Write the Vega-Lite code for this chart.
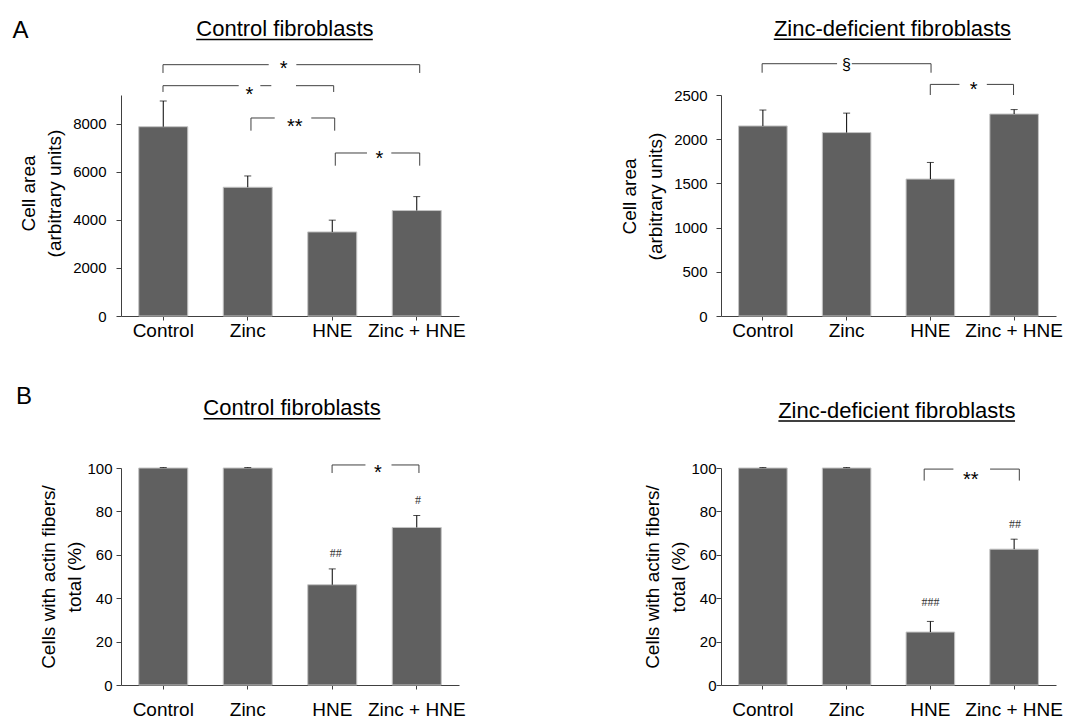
{
  "$schema": "https://vega.github.io/schema/vega-lite/v6.json",
  "padding": {"left": 12, "top": 18, "right": 5, "bottom": 0},
  "background": "white",
  "bounds": "flush",
  "columns": 2,
  "spacing": {"row": 152, "column": 262},
  "datasets": {
    "bars": [
      {"panel": "A1", "cat": "Control", "value": 7880, "err": 8950},
      {"panel": "A1", "cat": "Zinc", "value": 5360, "err": 5830},
      {"panel": "A1", "cat": "HNE", "value": 3500, "err": 3990},
      {"panel": "A1", "cat": "Zinc + HNE", "value": 4390, "err": 4970},
      {"panel": "A2", "cat": "Control", "value": 2150, "err": 2330},
      {"panel": "A2", "cat": "Zinc", "value": 2075, "err": 2295},
      {"panel": "A2", "cat": "HNE", "value": 1549, "err": 1737},
      {"panel": "A2", "cat": "Zinc + HNE", "value": 2285, "err": 2335},
      {"panel": "B1", "cat": "Control", "value": 100, "err": 100.2},
      {"panel": "B1", "cat": "Zinc", "value": 100, "err": 100.2},
      {"panel": "B1", "cat": "HNE", "value": 46.2, "err": 53.5},
      {"panel": "B1", "cat": "Zinc + HNE", "value": 72.6, "err": 78.1},
      {"panel": "B2", "cat": "Control", "value": 100, "err": 100.2},
      {"panel": "B2", "cat": "Zinc", "value": 100, "err": 100.2},
      {"panel": "B2", "cat": "HNE", "value": 24.4, "err": 29.3},
      {"panel": "B2", "cat": "Zinc + HNE", "value": 62.6, "err": 67.2}
    ],
    "lines": [
      {"panel": "A1", "kind": "bracket", "x": 0.497, "x2": 1.748, "y": 10462, "y2": 10462},
      {"panel": "A1", "kind": "bracket", "x": 2.075, "x2": 3.535, "y": 10462, "y2": 10462},
      {"panel": "A1", "kind": "bracket", "x": 0.497, "x2": 0.497, "y": 10117, "y2": 10462},
      {"panel": "A1", "kind": "bracket", "x": 3.535, "x2": 3.535, "y": 10117, "y2": 10462},
      {"panel": "A1", "kind": "bracket", "x": 0.497, "x2": 1.393, "y": 9588, "y2": 9588},
      {"panel": "A1", "kind": "bracket", "x": 1.649, "x2": 1.779, "y": 9588, "y2": 9588},
      {"panel": "A1", "kind": "bracket", "x": 2.071, "x2": 2.517, "y": 9588, "y2": 9588},
      {"panel": "A1", "kind": "bracket", "x": 0.497, "x2": 0.497, "y": 9326, "y2": 9588},
      {"panel": "A1", "kind": "bracket", "x": 2.517, "x2": 2.517, "y": 9326, "y2": 9588},
      {"panel": "A1", "kind": "bracket", "x": 1.538, "x2": 1.819, "y": 8243, "y2": 8243},
      {"panel": "A1", "kind": "bracket", "x": 2.252, "x2": 2.529, "y": 8243, "y2": 8243},
      {"panel": "A1", "kind": "bracket", "x": 1.538, "x2": 1.538, "y": 7715, "y2": 8243},
      {"panel": "A1", "kind": "bracket", "x": 2.529, "x2": 2.529, "y": 7715, "y2": 8243},
      {"panel": "A1", "kind": "bracket", "x": 2.536, "x2": 2.911, "y": 6786, "y2": 6786},
      {"panel": "A1", "kind": "bracket", "x": 3.199, "x2": 3.535, "y": 6786, "y2": 6786},
      {"panel": "A1", "kind": "bracket", "x": 2.536, "x2": 2.536, "y": 6257, "y2": 6786},
      {"panel": "A1", "kind": "bracket", "x": 3.535, "x2": 3.535, "y": 6257, "y2": 6786},
      {"panel": "A1", "kind": "underline", "x": 0.89, "x2": 2.98, "y": 11512, "y2": 11512},
      {"panel": "A2", "kind": "bracket", "x": 0.491, "x2": 1.386, "y": 2854, "y2": 2854},
      {"panel": "A2", "kind": "bracket", "x": 1.562, "x2": 2.508, "y": 2854, "y2": 2854},
      {"panel": "A2", "kind": "bracket", "x": 0.491, "x2": 0.491, "y": 2752, "y2": 2854},
      {"panel": "A2", "kind": "bracket", "x": 2.508, "x2": 2.508, "y": 2752, "y2": 2854},
      {"panel": "A2", "kind": "bracket", "x": 2.499, "x2": 2.847, "y": 2620, "y2": 2620},
      {"panel": "A2", "kind": "bracket", "x": 3.174, "x2": 3.493, "y": 2620, "y2": 2620},
      {"panel": "A2", "kind": "bracket", "x": 2.499, "x2": 2.499, "y": 2500, "y2": 2620},
      {"panel": "A2", "kind": "bracket", "x": 3.493, "x2": 3.493, "y": 2500, "y2": 2620},
      {"panel": "A2", "kind": "underline", "x": 0.63, "x2": 3.46, "y": 3131, "y2": 3131},
      {"panel": "B1", "kind": "bracket", "x": 2.498, "x2": 2.893, "y": 101.4, "y2": 101.4},
      {"panel": "B1", "kind": "bracket", "x": 3.201, "x2": 3.526, "y": 101.4, "y2": 101.4},
      {"panel": "B1", "kind": "bracket", "x": 2.498, "x2": 2.498, "y": 97.7, "y2": 101.4},
      {"panel": "B1", "kind": "bracket", "x": 3.526, "x2": 3.526, "y": 97.7, "y2": 101.4},
      {"panel": "B1", "kind": "underline", "x": 0.977, "x2": 3.07, "y": 122.7, "y2": 122.7},
      {"panel": "B2", "kind": "bracket", "x": 2.426, "x2": 2.775, "y": 99.5, "y2": 99.5},
      {"panel": "B2", "kind": "bracket", "x": 3.213, "x2": 3.562, "y": 99.5, "y2": 99.5},
      {"panel": "B2", "kind": "bracket", "x": 2.426, "x2": 2.426, "y": 94.2, "y2": 99.5},
      {"panel": "B2", "kind": "bracket", "x": 3.562, "x2": 3.562, "y": 94.2, "y2": 99.5},
      {"panel": "B2", "kind": "underline", "x": 0.685, "x2": 3.511, "y": 121.7, "y2": 121.7}
    ],
    "labels": [
      {"panel": "A1", "kind": "title", "x": 1.94, "y": 11645, "text": "Control fibroblasts"},
      {"panel": "A1", "kind": "panel", "x": -1.19, "y": 11574, "text": "A"},
      {"panel": "A1", "kind": "sig", "x": 1.925, "y": 10025, "text": "*"},
      {"panel": "A1", "kind": "sig", "x": 1.518, "y": 8947, "text": "*"},
      {"panel": "A1", "kind": "sig", "x": 2.056, "y": 7615, "text": "**"},
      {"panel": "A1", "kind": "sig", "x": 3.057, "y": 6291, "text": "*"},
      {"panel": "A2", "kind": "title", "x": 2.048, "y": 3167, "text": "Zinc-deficient fibroblasts"},
      {"panel": "A2", "kind": "sect", "x": 1.497, "y": 2781, "text": "§"},
      {"panel": "A2", "kind": "sig", "x": 3.018, "y": 2488, "text": "*"},
      {"panel": "B1", "kind": "title", "x": 2.024, "y": 124.2, "text": "Control fibroblasts"},
      {"panel": "B1", "kind": "panel", "x": -1.148, "y": 129.3, "text": "B"},
      {"panel": "B1", "kind": "sig", "x": 3.04, "y": 95.0, "text": "*"},
      {"panel": "B1", "kind": "hash", "x": 2.54, "y": 59.1, "text": "##"},
      {"panel": "B1", "kind": "hash", "x": 3.515, "y": 83.3, "text": "#"},
      {"panel": "B2", "kind": "title", "x": 2.099, "y": 123.2, "text": "Zinc-deficient fibroblasts"},
      {"panel": "B2", "kind": "sig", "x": 2.982, "y": 91.9, "text": "**"},
      {"panel": "B2", "kind": "hash", "x": 2.501, "y": 36.4, "text": "###"},
      {"panel": "B2", "kind": "hash", "x": 3.511, "y": 72.5, "text": "##"}
    ]
  },
  "concat": [
    {
      "width": 338, "height": 221,
      "resolve": {"scale": {"x": "independent"}, "axis": {"x": "independent"}},
      "layer": [
        {
          "data": {"name": "bars"},
          "transform": [{"filter": "datum.panel === 'A1'"}],
          "encoding": {
            "x": {"field": "cat", "type": "nominal", "sort": ["Control", "Zinc", "HNE", "Zinc + HNE"], "scale": {"paddingInner": 0.42, "paddingOuter": 0.21},
                  "axis": {"title": null, "labelFontSize": 19, "labelPadding": 1, "tickSize": 4, "labelAngle": 0, "labelOverlap": false, "labelFlush": false}},
            "y": {"field": "value", "type": "quantitative", "scale": {"domain": [0, 9200], "nice": false},
                  "axis": {"values": [0, 2000, 4000, 6000, 8000], "format": "d", "tickSize": 5, "labelFontSize": 15, "labelPadding": 10, "title": ["Cell area", "(arbitrary units)"], "titleFontSize": 19, "titlePadding": 8, "titleLineHeight": 26, "titleY": 98}}
          },
          "layer": [
            {"mark": {"type": "bar", "color": "#606060", "stroke": "#c4c4c4", "strokeWidth": 1}},
            {"mark": {"type": "rule", "color": "#000000", "strokeWidth": 1}, "encoding": {"y2": {"field": "err"}}},
            {"mark": {"type": "tick", "color": "#000000", "thickness": 1, "size": 7, "orient": "horizontal"}, "encoding": {"y": {"field": "err", "type": "quantitative"}}}
          ]
        },
        {
          "encoding": {
            "x": {"field": "x", "type": "quantitative", "scale": {"domain": [0, 4], "nice": false, "zero": false}, "axis": null},
            "y": {"field": "y", "type": "quantitative"}
          },
          "layer": [
            {"data": {"name": "lines"}, "transform": [{"filter": "datum.panel === 'A1' && datum.kind === 'bracket'"}], "mark": {"type": "rule", "color": "#404040", "strokeWidth": 1}, "encoding": {"x2": {"field": "x2"}, "y2": {"field": "y2"}}},
            {"data": {"name": "lines"}, "transform": [{"filter": "datum.panel === 'A1' && datum.kind === 'underline'"}], "mark": {"type": "rule", "color": "#000000", "strokeWidth": 1.5}, "encoding": {"x2": {"field": "x2"}, "y2": {"field": "y2"}}},
            {"data": {"name": "labels"}, "transform": [{"filter": "datum.panel === 'A1' && datum.kind === 'title'"}], "mark": {"type": "text", "fontSize": 22, "align": "center", "baseline": "alphabetic"}, "encoding": {"text": {"field": "text"}}},
            {"data": {"name": "labels"}, "transform": [{"filter": "datum.panel === 'A1' && datum.kind === 'panel'"}], "mark": {"type": "text", "fontSize": 24, "align": "center", "baseline": "alphabetic"}, "encoding": {"text": {"field": "text"}}},
            {"data": {"name": "labels"}, "transform": [{"filter": "datum.panel === 'A1' && datum.kind === 'sig'"}], "mark": {"type": "text", "fontSize": 20, "align": "center", "baseline": "alphabetic"}, "encoding": {"text": {"field": "text"}}}
          ]
        }
      ]
    },
    {
      "width": 335, "height": 221,
      "resolve": {"scale": {"x": "independent"}, "axis": {"x": "independent"}},
      "layer": [
        {
          "data": {"name": "bars"},
          "transform": [{"filter": "datum.panel === 'A2'"}],
          "encoding": {
            "x": {"field": "cat", "type": "nominal", "sort": ["Control", "Zinc", "HNE", "Zinc + HNE"], "scale": {"paddingInner": 0.42, "paddingOuter": 0.21},
                  "axis": {"title": null, "labelFontSize": 19, "labelPadding": 1, "tickSize": 4, "labelAngle": 0, "labelOverlap": false, "labelFlush": false}},
            "y": {"field": "value", "type": "quantitative", "scale": {"domain": [0, 2500], "nice": false},
                  "axis": {"values": [0, 500, 1000, 1500, 2000, 2500], "format": "d", "tickSize": 5, "labelFontSize": 15, "labelPadding": 9, "title": ["Cell area", "(arbitrary units)"], "titleFontSize": 19, "titlePadding": 8, "titleLineHeight": 26, "titleY": 101}}
          },
          "layer": [
            {"mark": {"type": "bar", "color": "#606060", "stroke": "#c4c4c4", "strokeWidth": 1}},
            {"mark": {"type": "rule", "color": "#000000", "strokeWidth": 1}, "encoding": {"y2": {"field": "err"}}},
            {"mark": {"type": "tick", "color": "#000000", "thickness": 1, "size": 7, "orient": "horizontal"}, "encoding": {"y": {"field": "err", "type": "quantitative"}}}
          ]
        },
        {
          "encoding": {
            "x": {"field": "x", "type": "quantitative", "scale": {"domain": [0, 4], "nice": false, "zero": false}, "axis": null},
            "y": {"field": "y", "type": "quantitative"}
          },
          "layer": [
            {"data": {"name": "lines"}, "transform": [{"filter": "datum.panel === 'A2' && datum.kind === 'bracket'"}], "mark": {"type": "rule", "color": "#404040", "strokeWidth": 1}, "encoding": {"x2": {"field": "x2"}, "y2": {"field": "y2"}}},
            {"data": {"name": "lines"}, "transform": [{"filter": "datum.panel === 'A2' && datum.kind === 'underline'"}], "mark": {"type": "rule", "color": "#000000", "strokeWidth": 1.5}, "encoding": {"x2": {"field": "x2"}, "y2": {"field": "y2"}}},
            {"data": {"name": "labels"}, "transform": [{"filter": "datum.panel === 'A2' && datum.kind === 'title'"}], "mark": {"type": "text", "fontSize": 22, "align": "center", "baseline": "alphabetic"}, "encoding": {"text": {"field": "text"}}},
            {"data": {"name": "labels"}, "transform": [{"filter": "datum.panel === 'A2' && datum.kind === 'sect'"}], "mark": {"type": "text", "fontSize": 16, "align": "center", "baseline": "alphabetic"}, "encoding": {"text": {"field": "text"}}},
            {"data": {"name": "labels"}, "transform": [{"filter": "datum.panel === 'A2' && datum.kind === 'sig'"}], "mark": {"type": "text", "fontSize": 20, "align": "center", "baseline": "alphabetic"}, "encoding": {"text": {"field": "text"}}}
          ]
        }
      ]
    },
    {
      "width": 338, "height": 217,
      "resolve": {"scale": {"x": "independent"}, "axis": {"x": "independent"}},
      "layer": [
        {
          "data": {"name": "bars"},
          "transform": [{"filter": "datum.panel === 'B1'"}],
          "encoding": {
            "x": {"field": "cat", "type": "nominal", "sort": ["Control", "Zinc", "HNE", "Zinc + HNE"], "scale": {"paddingInner": 0.42, "paddingOuter": 0.21},
                  "axis": {"title": null, "labelFontSize": 19, "labelPadding": 11, "tickSize": 4, "labelAngle": 0, "labelOverlap": false, "labelFlush": false}},
            "y": {"field": "value", "type": "quantitative", "scale": {"domain": [0, 100], "nice": false},
                  "axis": {"values": [0, 20, 40, 60, 80, 100], "format": "d", "tickSize": 5, "labelFontSize": 15, "labelPadding": 4, "title": ["Cells with actin fibers/", "total (%)"], "titleFontSize": 19, "titlePadding": 2, "titleLineHeight": 26}}
          },
          "layer": [
            {"mark": {"type": "bar", "color": "#606060", "stroke": "#c4c4c4", "strokeWidth": 1}},
            {"mark": {"type": "rule", "color": "#000000", "strokeWidth": 1}, "encoding": {"y2": {"field": "err"}}},
            {"mark": {"type": "tick", "color": "#000000", "thickness": 1, "size": 7, "orient": "horizontal"}, "encoding": {"y": {"field": "err", "type": "quantitative"}}}
          ]
        },
        {
          "encoding": {
            "x": {"field": "x", "type": "quantitative", "scale": {"domain": [0, 4], "nice": false, "zero": false}, "axis": null},
            "y": {"field": "y", "type": "quantitative"}
          },
          "layer": [
            {"data": {"name": "lines"}, "transform": [{"filter": "datum.panel === 'B1' && datum.kind === 'bracket'"}], "mark": {"type": "rule", "color": "#404040", "strokeWidth": 1}, "encoding": {"x2": {"field": "x2"}, "y2": {"field": "y2"}}},
            {"data": {"name": "lines"}, "transform": [{"filter": "datum.panel === 'B1' && datum.kind === 'underline'"}], "mark": {"type": "rule", "color": "#000000", "strokeWidth": 1.5}, "encoding": {"x2": {"field": "x2"}, "y2": {"field": "y2"}}},
            {"data": {"name": "labels"}, "transform": [{"filter": "datum.panel === 'B1' && datum.kind === 'title'"}], "mark": {"type": "text", "fontSize": 22, "align": "center", "baseline": "alphabetic"}, "encoding": {"text": {"field": "text"}}},
            {"data": {"name": "labels"}, "transform": [{"filter": "datum.panel === 'B1' && datum.kind === 'panel'"}], "mark": {"type": "text", "fontSize": 24, "align": "center", "baseline": "alphabetic"}, "encoding": {"text": {"field": "text"}}},
            {"data": {"name": "labels"}, "transform": [{"filter": "datum.panel === 'B1' && datum.kind === 'sig'"}], "mark": {"type": "text", "fontSize": 20, "align": "center", "baseline": "alphabetic"}, "encoding": {"text": {"field": "text"}}},
            {"data": {"name": "labels"}, "transform": [{"filter": "datum.panel === 'B1' && datum.kind === 'hash'"}], "mark": {"type": "text", "font": "Liberation Serif", "fontSize": 12, "align": "center", "baseline": "alphabetic", "color": "#333333"}, "encoding": {"text": {"field": "text"}}}
          ]
        }
      ]
    },
    {
      "width": 335, "height": 217,
      "resolve": {"scale": {"x": "independent"}, "axis": {"x": "independent"}},
      "layer": [
        {
          "data": {"name": "bars"},
          "transform": [{"filter": "datum.panel === 'B2'"}],
          "encoding": {
            "x": {"field": "cat", "type": "nominal", "sort": ["Control", "Zinc", "HNE", "Zinc + HNE"], "scale": {"paddingInner": 0.42, "paddingOuter": 0.21},
                  "axis": {"title": null, "labelFontSize": 19, "labelPadding": 11, "tickSize": 4, "labelAngle": 0, "labelOverlap": false, "labelFlush": false}},
            "y": {"field": "value", "type": "quantitative", "scale": {"domain": [0, 100], "nice": false},
                  "axis": {"values": [0, 20, 40, 60, 80, 100], "format": "d", "tickSize": 5, "labelFontSize": 15, "labelPadding": 0, "title": ["Cells with actin fibers/", "total (%)"], "titleFontSize": 19, "titlePadding": 2, "titleLineHeight": 26}}
          },
          "layer": [
            {"mark": {"type": "bar", "color": "#606060", "stroke": "#c4c4c4", "strokeWidth": 1}},
            {"mark": {"type": "rule", "color": "#000000", "strokeWidth": 1}, "encoding": {"y2": {"field": "err"}}},
            {"mark": {"type": "tick", "color": "#000000", "thickness": 1, "size": 7, "orient": "horizontal"}, "encoding": {"y": {"field": "err", "type": "quantitative"}}}
          ]
        },
        {
          "encoding": {
            "x": {"field": "x", "type": "quantitative", "scale": {"domain": [0, 4], "nice": false, "zero": false}, "axis": null},
            "y": {"field": "y", "type": "quantitative"}
          },
          "layer": [
            {"data": {"name": "lines"}, "transform": [{"filter": "datum.panel === 'B2' && datum.kind === 'bracket'"}], "mark": {"type": "rule", "color": "#404040", "strokeWidth": 1}, "encoding": {"x2": {"field": "x2"}, "y2": {"field": "y2"}}},
            {"data": {"name": "lines"}, "transform": [{"filter": "datum.panel === 'B2' && datum.kind === 'underline'"}], "mark": {"type": "rule", "color": "#000000", "strokeWidth": 1.5}, "encoding": {"x2": {"field": "x2"}, "y2": {"field": "y2"}}},
            {"data": {"name": "labels"}, "transform": [{"filter": "datum.panel === 'B2' && datum.kind === 'title'"}], "mark": {"type": "text", "fontSize": 22, "align": "center", "baseline": "alphabetic"}, "encoding": {"text": {"field": "text"}}},
            {"data": {"name": "labels"}, "transform": [{"filter": "datum.panel === 'B2' && datum.kind === 'sig'"}], "mark": {"type": "text", "fontSize": 20, "align": "center", "baseline": "alphabetic"}, "encoding": {"text": {"field": "text"}}},
            {"data": {"name": "labels"}, "transform": [{"filter": "datum.panel === 'B2' && datum.kind === 'hash'"}], "mark": {"type": "text", "font": "Liberation Serif", "fontSize": 12, "align": "center", "baseline": "alphabetic", "color": "#333333"}, "encoding": {"text": {"field": "text"}}}
          ]
        }
      ]
    }
  ],
  "config": {
    "font": "Liberation Sans",
    "view": {"stroke": null},
    "axis": {"domainColor": "#404040", "tickColor": "#404040", "labelColor": "#000000", "titleColor": "#000000", "grid": false, "labelFont": "Liberation Sans", "titleFont": "Liberation Sans", "titleFontWeight": "normal"},
    "text": {"font": "Liberation Sans", "color": "#000000"}
  }
}
